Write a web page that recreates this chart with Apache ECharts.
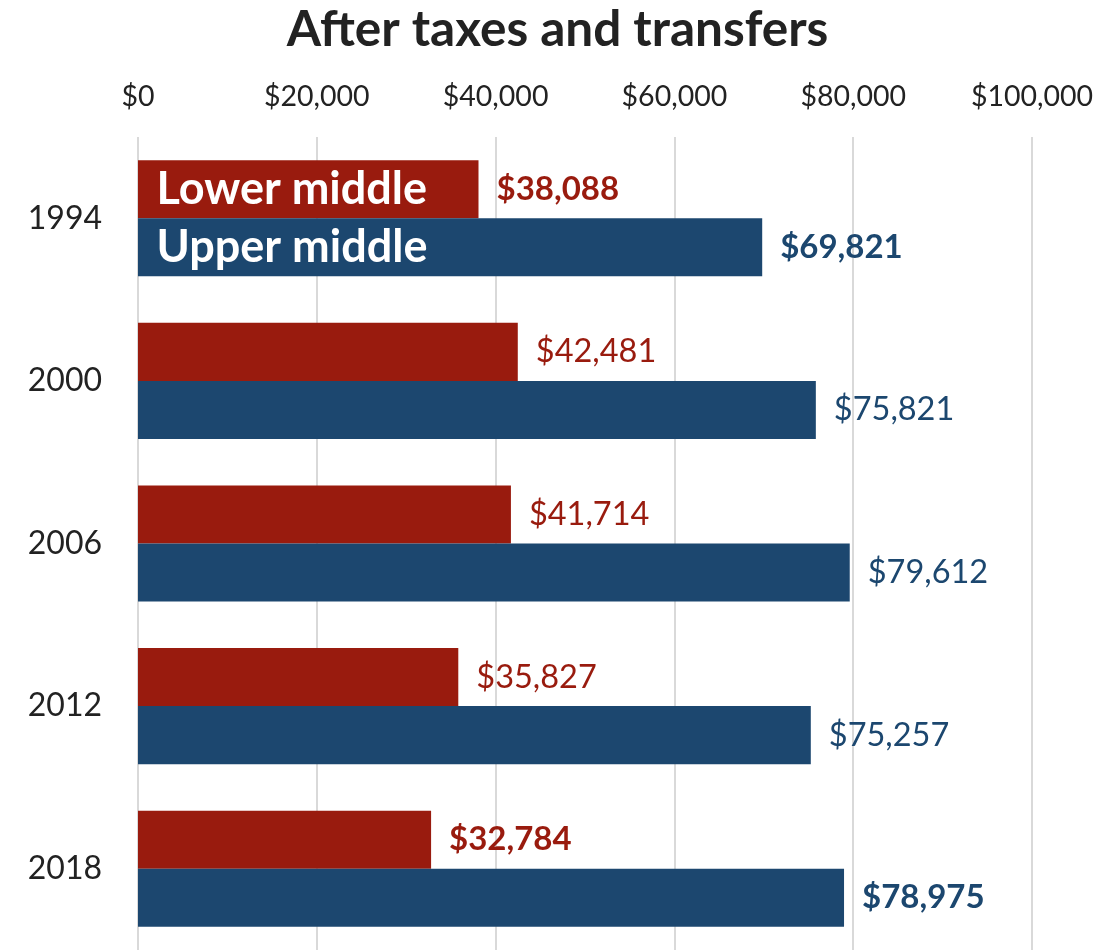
<!DOCTYPE html>
<html>
<head>
<meta charset="utf-8">
<script src="https://cdn.jsdelivr.net/npm/echarts@6/dist/echarts.min.js"></script>
<style>
  html, body { margin: 0; padding: 0; background: #fff; }
  #chart { width: 1115px; height: 951px; }
</style>
</head>
<body>
<div id="chart"></div>
<script>
// Median household income, after taxes and transfers
const years = ['1994', '2000', '2006', '2012', '2018'];
const lowerMiddle = [38088, 42481, 41714, 35827, 32784];
const upperMiddle = [69821, 75821, 79612, 75257, 78975];
const boldYears = ['1994', '2018'];
const tickValues = [0, 20000, 40000, 60000, 80000, 100000];

const RED = '#991b0e';
const BLUE = '#1c476f';
const FONT = 'Lato';

const money = v => '$' + Math.round(v).toLocaleString('en-US');

function barData(values) {
  return values.map((v, i) => {
    const bold = boldYears.includes(years[i]);
    return {
      value: v,
      label: { fontWeight: bold ? 'bold' : 'normal', fontSize: bold ? 33 : 32.5 }
    };
  });
}

// series name written inside the first bar
function nameMark(name) {
  return {
    symbol: 'rect',
    symbolSize: 1,
    itemStyle: { color: 'rgba(0,0,0,0)' },
    label: {
      show: true,
      position: 'right',
      distance: 18,
      formatter: name,
      color: '#fff',
      fontFamily: FONT,
      fontWeight: 'bold',
      fontSize: 45
    },
    data: [{ coord: [0, years[0]] }]
  };
}

function series(name, values, color) {
  return {
    name: name,
    type: 'bar',
    data: barData(values),
    barGap: '0%',
    barCategoryGap: '28.6%',
    itemStyle: { color: color },
    label: {
      show: true,
      position: 'right',
      distance: 18,
      color: color,
      fontFamily: FONT,
      formatter: p => money(p.value)
    },
    markPoint: nameMark(name),
    animation: false
  };
}

const chart = echarts.init(document.getElementById('chart'));
chart.setOption({
  animation: false,
  title: {
    text: 'After taxes and transfers',
    left: 'center',
    top: 0,
    textStyle: { fontFamily: FONT, fontWeight: 'bold', fontSize: 49.5, color: '#222' }
  },
  grid: { left: 138, right: 83, top: 137, bottom: 1, containLabel: false },
  xAxis: {
    type: 'value',
    position: 'top',
    min: 0,
    max: 100000,
    interval: 20000,
    axisLine: { show: false },
    axisTick: { show: false },
    axisLabel: {
      margin: 26,
      fontFamily: FONT,
      fontSize: 28.5,
      color: '#222',
      formatter: v => tickValues.includes(v) ? money(v) : ''
    },
    splitLine: { show: true, lineStyle: { color: '#d9d9d9', width: 2 } }
  },
  yAxis: {
    type: 'category',
    data: years,
    inverse: true,
    axisLine: { show: false },
    axisTick: { show: false },
    axisLabel: { margin: 36, fontFamily: FONT, fontSize: 32, color: '#222' }
  },
  series: [
    series('Lower middle', lowerMiddle, RED),
    series('Upper middle', upperMiddle, BLUE)
  ]
});
</script>
</body>
</html>
